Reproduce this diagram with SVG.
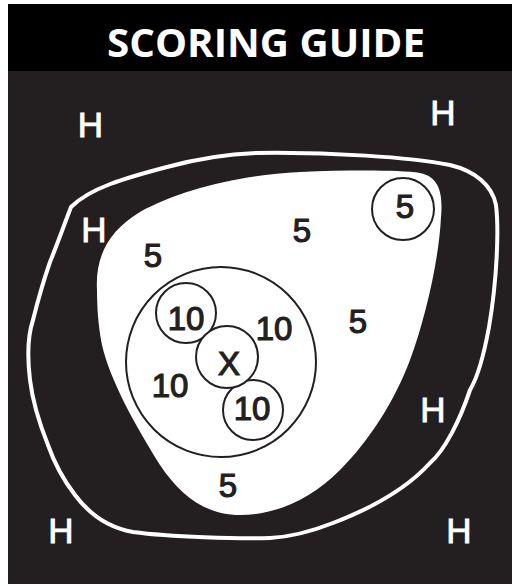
<svg xmlns="http://www.w3.org/2000/svg" width="512" height="586" viewBox="0 0 512 586">
<style>
.h{font-family:"Liberation Sans",Arial,sans-serif;font-size:35px;fill:#ffffff;text-anchor:middle;stroke:#ffffff;stroke-width:0.9}
.n{font-family:"Liberation Sans",Arial,sans-serif;font-size:33px;fill:#231f20;text-anchor:middle;stroke:#231f20;stroke-width:1.2}
.ring{fill:#ffffff;stroke:#231f20;stroke-width:2}
</style>
<rect x="0" y="0" width="512" height="586" fill="#ffffff"/>
<rect x="8" y="4" width="504" height="67" fill="#000000"/>
<rect x="8" y="71" width="504" height="513" fill="#231f20"/>
<text x="266" y="57" font-family="'Open Sans','Liberation Sans',sans-serif" font-weight="bold" font-size="40" fill="#ffffff" text-anchor="middle" textLength="318" lengthAdjust="spacingAndGlyphs">SCORING GUIDE</text>
<g id="outline">
<path d="M71,207 C90,188 125,178 167,167 C200,158 230,154 256,153 C330,152 410,157 450,165 C475,171 492,185 496,205 C499,230 497,280 489,327 C483,360 476,380 470,390 C460,420 445,450 430,463 C410,485 380,505 333,523 C310,532 290,537 270,538 C240,539 170,537 133,532 C110,528 90,515 75,495 C65,482 55,465 48,445 C40,425 33,405 30,380 C27,355 28,335 33,320 C38,300 42,285 50,262 C57,245 63,228 71,207 Z" fill="none" stroke="#ffffff" stroke-width="4"/>
</g>
<g id="zone5">
<path d="M97,290 C95,255 110,230 140,212 C180,190 240,175 300,172 C350,170 400,170 420,173 C440,177 443,195 441,217 C439,260 425,320 410,360 C395,400 370,440 340,470 C310,500 275,515 240,515 C205,515 180,495 160,465 C135,425 110,380 102,345 C98,325 97,305 97,290 Z" fill="#ffffff"/>
</g>
<g id="zone10"><circle class="ring" cx="221" cy="362" r="95"/></g>
<g id="c5"><circle class="ring" cx="403" cy="209" r="31"/><text class="n" x="405" y="218">5</text></g>
<g id="c10a"><circle class="ring" cx="186" cy="313" r="30"/><text class="n" x="186" y="330">10</text></g>
<g id="c10b"><circle class="ring" cx="253" cy="410" r="30"/><text class="n" x="252" y="420">10</text></g>
<g id="cx"><circle class="ring" cx="227" cy="357" r="31"/><text class="n" x="229" y="375" font-size="48">X</text></g>
<g id="labels">
<text class="n" x="274" y="340">10</text>
<text class="n" x="170" y="397">10</text>
<text class="n" x="153" y="267">5</text>
<text class="n" x="302" y="242">5</text>
<text class="n" x="358" y="333">5</text>
<text class="n" x="228" y="497">5</text>
<text class="h" x="90.5" y="137">H</text>
<text class="h" x="443" y="125">H</text>
<text class="h" x="94" y="242">H</text>
<text class="h" x="433" y="422">H</text>
<text class="h" x="61" y="543">H</text>
<text class="h" x="459" y="543">H</text>
</g>
</svg>
